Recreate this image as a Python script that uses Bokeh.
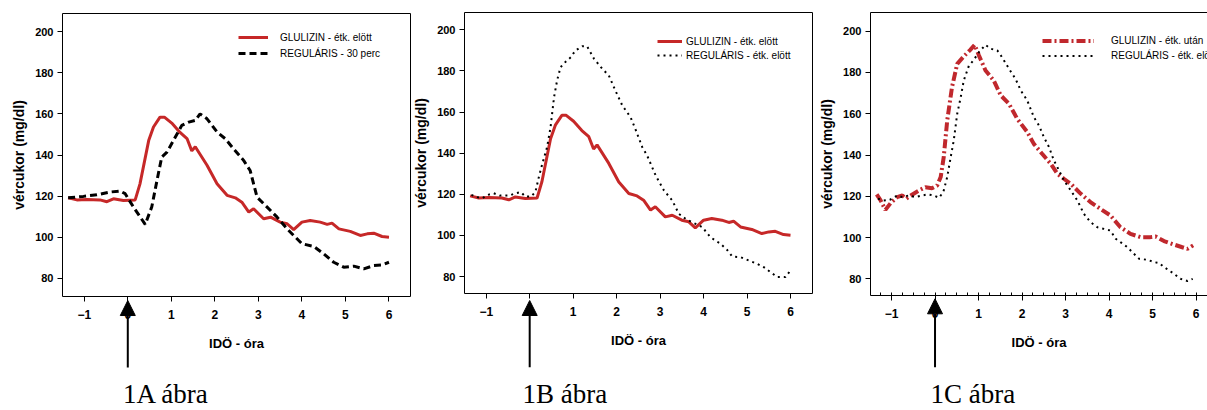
from bokeh.plotting import figure
from bokeh.layouts import row
from bokeh.models import (Range1d, FixedTicker, Legend, LegendItem, Arrow,
                          NormalHead, Label, LinearAxis)
from bokeh.embed import file_html
from bokeh.resources import INLINE

# ---------------- data ----------------
x_ticks = [-1, 0, 1, 2, 3, 4, 5, 6]
y_ticks = [80, 100, 120, 140, 160, 180, 200]
captions = ["1A ábra", "1B ábra", "1C ábra"]
x_title = "IDÖ - óra"
y_title = "vércukor (mg/dl)"

# GLULIZIN - étk. elött (panels A and B)
glu_pre_t = [-1.37, -1.17, -0.94, -0.64, -0.48, -0.33, -0.10, 0.17, 0.28, 0.48,
             0.59, 0.74, 0.84, 1.01, 1.20, 1.36, 1.47, 1.55, 1.82, 2.05,
             2.28, 2.47, 2.62, 2.78, 2.89, 3.12, 3.28, 3.50, 3.66, 3.81,
             4.00, 4.19, 4.42, 4.58, 4.69, 4.85, 5.11, 5.34, 5.50, 5.65,
             5.84, 6.00]
glu_pre_v = [119.2, 118.2, 118.4, 118.2, 117.3, 118.7, 117.9, 118.2, 126.0, 147.0,
             153.6, 158.4, 158.4, 155.5, 151.0, 148.0, 142.0, 144.0, 135.0, 126.0,
             120.4, 119.2, 117.1, 112.3, 113.9, 109.0, 109.8, 107.4, 106.6, 103.7,
             107.4, 108.2, 107.4, 106.3, 106.9, 104.1, 102.9, 100.9, 101.7, 102.0,
             100.4, 100.1]

# REGULÁRIS - 30 perc (panel A)
reg_30_t = [-1.37, -1.02, -0.71, -0.41, -0.18, -0.06, 0.13, 0.40, 0.55, 0.67,
            0.78, 0.90, 1.05, 1.24, 1.40, 1.55, 1.66, 1.82, 2.05, 2.24,
            2.43, 2.66, 2.81, 2.97, 3.20, 3.43, 3.66, 3.81, 4.00, 4.27,
            4.50, 4.73, 4.96, 5.19, 5.42, 5.65, 5.84, 6.00]
reg_30_v = [119.2, 119.9, 120.7, 122.0, 122.5, 121.2, 114.7, 106.3, 114.7, 127.6,
            139.0, 141.4, 147.1, 154.4, 156.0, 156.8, 160.0, 157.6, 151.2, 147.9,
            143.0, 137.4, 132.5, 119.5, 114.7, 109.8, 104.1, 100.9, 96.9, 95.6,
            92.0, 87.9, 85.5, 86.0, 84.7, 86.3, 86.6, 87.9]

# REGULÁRIS - étk. elött (panel B)
reg_pre_b_t = [-1.34, -1.21, -1.09, -0.96, -0.83, -0.69, -0.58, -0.46, -0.33, -0.20,
               -0.10, 0.03, 0.13, 0.21, 0.29, 0.40, 0.48, 0.56, 0.63, 0.71,
               0.82, 0.95, 1.05, 1.21, 1.32, 1.48, 1.67, 1.82, 1.97, 2.13,
               2.32, 2.43, 2.59, 2.70, 2.90, 3.09, 3.28, 3.43, 3.59, 3.74,
               3.97, 4.16, 4.39, 4.54, 4.66, 4.85, 5.04, 5.23, 5.39, 5.54,
               5.70, 5.88, 6.01]
reg_pre_b_v = [119.7, 118.6, 118.1, 119.7, 120.5, 119.4, 119.4, 119.4, 120.5, 121.0,
               118.9, 118.9, 121.0, 128.3, 134.8, 142.9, 152.6, 167.2, 175.3, 181.8,
               184.3, 186.7, 189.9, 192.0, 192.0, 185.9, 181.0, 177.8, 170.5, 163.2,
               157.5, 151.8, 142.9, 138.9, 129.1, 121.8, 117.0, 110.5, 108.0, 106.4,
               104.0, 99.1, 95.9, 93.0, 89.7, 89.4, 87.8, 86.2, 84.5, 82.1,
               79.7, 79.7, 83.2]

# GLULIZIN - étk. után (panel C)
glu_post_t = [-1.34, -1.25, -1.14, -1.02, -0.87, -0.75, -0.66, -0.52, -0.37, -0.22,
              -0.07, 0.05, 0.13, 0.20, 0.28, 0.39, 0.51, 0.66, 0.81, 0.91,
              1.01, 1.16, 1.35, 1.51, 1.70, 1.89, 2.12, 2.27, 2.46, 2.66,
              2.81, 2.96, 3.12, 3.35, 3.57, 3.80, 4.03, 4.26, 4.49, 4.72,
              4.95, 5.07, 5.26, 5.49, 5.68, 5.80, 5.93]
glu_post_v = [120.9, 118.0, 113.4, 116.7, 119.6, 120.4, 118.8, 120.9, 122.8, 124.4,
              123.9, 125.2, 129.3, 139.0, 156.7, 172.9, 184.2, 187.8, 191.0, 193.4,
              188.2, 181.0, 176.1, 168.9, 164.8, 157.5, 151.1, 145.4, 140.6, 135.7,
              130.9, 128.5, 126.0, 121.2, 117.2, 113.9, 110.7, 105.0, 101.8, 100.2,
              100.2, 100.5, 98.3, 96.6, 95.3, 94.5, 96.2]

# REGULÁRIS - étk. elött (panel C)
reg_pre_c_t = [-1.31, -1.18, -1.04, -0.87, -0.75, -0.60, -0.45, -0.30, -0.16, -0.03,
               0.09, 0.19, 0.28, 0.36, 0.43, 0.51, 0.59, 0.66, 0.78, 0.88,
               1.01, 1.16, 1.28, 1.43, 1.54, 1.70, 1.85, 1.97, 2.12, 2.27,
               2.39, 2.50, 2.62, 2.73, 2.85, 2.96, 3.12, 3.27, 3.42, 3.57,
               3.73, 3.88, 4.03, 4.15, 4.26, 4.42, 4.57, 4.69, 4.88, 5.03,
               5.15, 5.26, 5.38, 5.49, 5.64, 5.80, 5.92]
reg_pre_c_v = [118.8, 118.0, 118.3, 120.4, 119.6, 120.4, 119.6, 120.4, 120.9, 120.4,
               119.3, 122.0, 129.3, 139.0, 147.0, 160.0, 168.0, 176.1, 183.4, 185.8,
               189.9, 193.4, 191.5, 190.7, 187.4, 181.8, 176.9, 171.3, 166.4, 158.4,
               154.3, 148.7, 143.8, 137.4, 132.5, 127.7, 122.8, 118.0, 111.5, 107.5,
               105.0, 104.2, 103.4, 99.4, 97.8, 95.3, 92.1, 89.7, 89.2, 88.1,
               87.6, 85.7, 84.0, 82.4, 80.0, 78.9, 80.0]

RED = "#c62828"
AXIS_FONT = "Liberation Sans"
FIG_H = 410


def bare_axis(loc, bounds):
    return LinearAxis(ticker=FixedTicker(ticks=[]), fixed_location=loc, bounds=bounds,
                      major_tick_out=0, major_tick_in=0, minor_tick_out=0,
                      minor_tick_in=0, major_label_standoff=0,
                      major_label_text_font_size="0px", axis_line_color="black",
                      axis_line_width=1)


def make_panel(width, xr, yr, box_x, box_y, right_edge=True):
    """Panel whose frame covers the whole canvas; the axes sit at fixed
    positions (the plot box), so that arrow and caption can be drawn below."""
    p = figure(width=width, height=FIG_H, x_range=Range1d(*xr), y_range=Range1d(*yr),
               output_backend="svg", toolbar_location=None, title=None,
               x_axis_location=None, y_axis_location=None,
               min_border_left=0, min_border_right=0,
               min_border_top=0, min_border_bottom=0)
    p.grid.visible = False
    p.outline_line_color = None
    p.background_fill_color = "white"
    p.border_fill_color = "white"

    xa = LinearAxis(ticker=FixedTicker(ticks=x_ticks), fixed_location=box_y[0],
                    bounds=box_x, axis_label=x_title)
    ya = LinearAxis(ticker=FixedTicker(ticks=y_ticks), fixed_location=box_x[0],
                    bounds=box_y, axis_label=y_title)
    for ax in (xa, ya):
        ax.major_tick_out = 5
        ax.major_tick_in = 0
        ax.minor_tick_out = 0
        ax.minor_tick_in = 0
        ax.axis_line_color = "black"
        ax.major_tick_line_color = "black"
        ax.major_label_text_font = AXIS_FONT
        ax.major_label_text_font_style = "bold"
        ax.major_label_text_color = "black"
        ax.axis_label_text_font = AXIS_FONT
        ax.axis_label_text_font_style = "bold"
        ax.axis_label_text_color = "black"
    xa.major_label_text_font_size = "12px"
    ya.major_label_text_font_size = "11px"
    xa.axis_label_text_font_size = "13px"
    ya.axis_label_text_font_size = "14px"
    xa.major_label_standoff = 8
    ya.major_label_standoff = 4
    xa.axis_label_standoff = 14
    ya.axis_label_standoff = 5
    p.add_layout(xa, "below")
    p.add_layout(ya, "left")
    p.add_layout(bare_axis(box_y[1], box_x), "above")
    if right_edge:
        p.add_layout(bare_axis(box_x[1], box_y), "right")
    return p, xa


def add_legend(p, items, loc, glyph_w, standoff, row_h):
    leg = Legend(items=[LegendItem(label=l, renderers=[r]) for l, r in items],
                 location=loc, glyph_width=glyph_w, glyph_height=row_h,
                 label_height=row_h, label_standoff=standoff, spacing=0,
                 padding=0, margin=0, border_line_color=None,
                 background_fill_alpha=0, label_text_font=AXIS_FONT,
                 label_text_font_size="10px", label_text_color="black")
    p.add_layout(leg)


def add_arrow_caption(p, tip, bottom, cap_x, cap_y, text):
    p.add_layout(Arrow(end=NormalHead(size=15, fill_color="black", line_color="black"),
                       x_start=0, y_start=bottom, x_end=0, y_end=tip,
                       line_width=2, line_color="black"))
    p.add_layout(Label(x=cap_x, y=cap_y, text=text, text_font="Liberation Serif",
                       text_font_size="27px", text_color="black",
                       text_baseline="alphabetic"))


# ---------------- panel A ----------------
pa, _ = make_panel(412, (-2.924, 6.540), (15.86, 215.08), (-1.5, 6.5), (71.25, 208.7))
ra1 = pa.line(glu_pre_t, glu_pre_v, line_color=RED, line_width=3)
ra2 = pa.line(reg_30_t, reg_30_v, line_color="black", line_width=3, line_dash="7 4")
add_legend(pa, [("GLULIZIN - étk. elött", ra1), ("REGULÁRIS - 30 perc", ra2)],
           (238, 349), 30, 12, 16)
add_arrow_caption(pa, 69.3, 36.75, -0.108, 23.8, captions[0])

# ---------------- panel B ----------------
pb, _ = make_panel(404, (-2.696, 6.598), (14.83, 214.24), (-1.5, 6.5), (71.6, 208.4))
rb1 = pb.line(glu_pre_t, glu_pre_v, line_color=RED, line_width=3)
rb2 = pb.line(reg_pre_b_t, reg_pre_b_v, line_color="black", line_width=2, line_dash="2 4")
add_legend(pb, [("GLULIZIN - étk. elött", rb1), ("REGULÁRIS - étk. elött", rb2)],
           (245, 348), 25, 4, 14)
add_arrow_caption(pb, 68.33, 35.9, -0.166, 22.7, captions[1])

# ---------------- panel C ----------------
pc, xc = make_panel(391, (-2.723, 6.26), (16.16, 214.9), (-1.483, 6.5), (71.9, 208.9),
                    right_edge=False)
xc.ticker = FixedTicker(ticks=x_ticks, minor_ticks=[i * 0.25 - 1.25 for i in range(31)])
xc.minor_tick_in = 3
xc.minor_tick_out = 0
xc.minor_tick_line_color = "black"
rc1 = pc.line(glu_post_t, glu_post_v, line_color="#c0282d", line_width=4, line_dash="9 3 2 3")
rc2 = pc.line(reg_pre_c_t, reg_pre_c_v, line_color="black", line_width=2, line_dash="2 4")
add_legend(pc, [("GLULIZIN - étk. után", rc1), ("REGULÁRIS - étk. elött", rc2)],
           (226, 347), 52, 17, 15)
add_arrow_caption(pc, 70.3, 37.15, -0.103, 24.1, captions[2])

layout = row(pa, pb, pc)
open("out.html", "w").write(file_html(layout, INLINE))
